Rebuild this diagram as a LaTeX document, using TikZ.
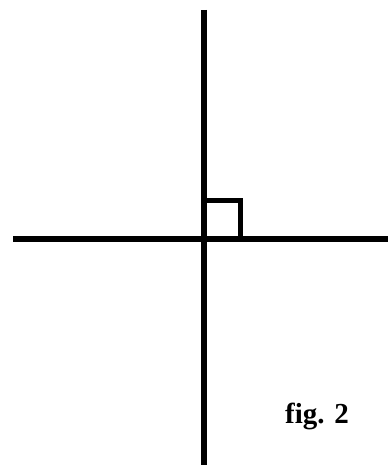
\documentclass[tikz,border=0pt]{standalone}
\usepackage{fontspec}
\setmainfont{Liberation Serif}
\tikzset{axis/.style={line width=6pt},
  anglemark/.style={line width=5pt}}
\begin{document}
\begin{tikzpicture}[x=1pt,y=-1pt]
\useasboundingbox (0,0) rectangle (388,465);
\coordinate (top) at (203.5,10);
\coordinate (bottom) at (203.5,465);
\coordinate (left) at (13,239);
\coordinate (right) at (388,239);
\coordinate (corner) at (240,200.5);
\draw[axis] (top) -- (bottom);
\draw[axis] (left) -- (right);
\draw[anglemark] (top |- corner) -- (corner) -- (corner |- right);
\node[anchor=base west,inner sep=0pt,font=\bfseries\fontsize{29}{34}\selectfont] (label) at (285,423) {fig. 2};
\end{tikzpicture}
\end{document}
